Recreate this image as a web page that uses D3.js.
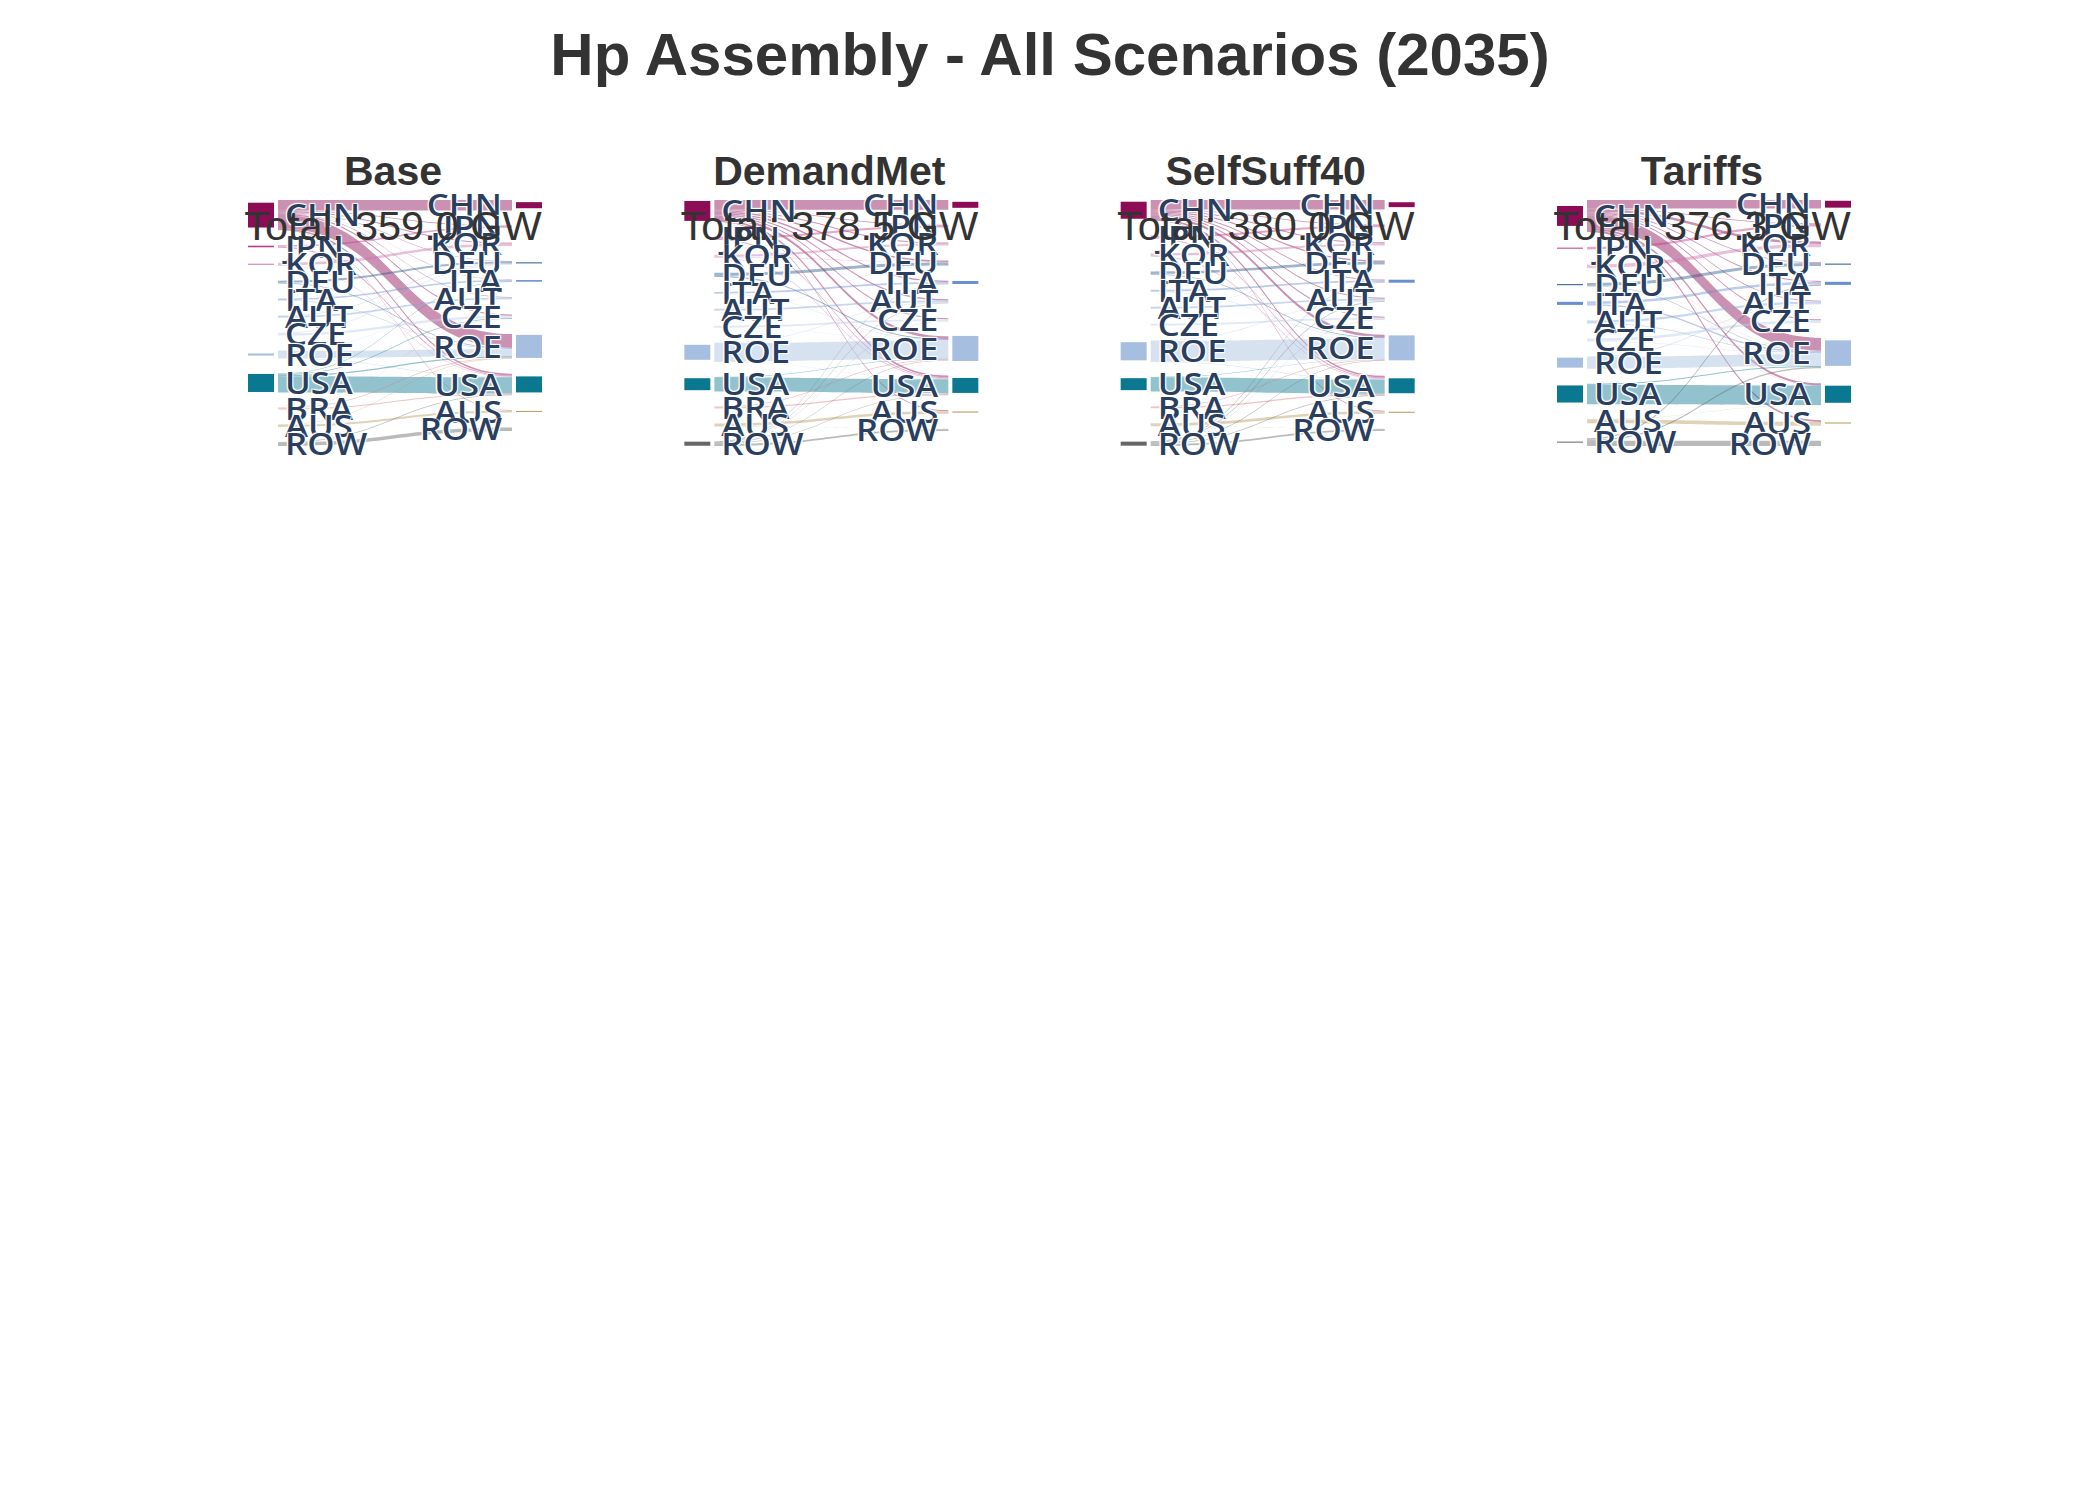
<!DOCTYPE html>
<html><head><meta charset="utf-8">
<script src="https://cdn.jsdelivr.net/npm/d3@7"></script>
<style>
html,body{margin:0;padding:0;background:#fff;}
.lbl{font-family:"Open Sans",sans-serif;font-weight:600;fill:#2a3f5f;text-shadow:1px 1px 1px #fff,1px -1px 1px #fff,-1px 1px 1px #fff,-1px -1px 1px #fff;}
</style></head><body><svg id="chart" width="2100" height="1500"></svg>
<script>
const chartTitle = "Hp Assembly - All Scenarios (2035)";
const scenarios = ["Base", "DemandMet", "SelfSuff40", "Tariffs"];
const scenarioTotals = [359.0, 378.5, 380.0, 376.3];
const countries = ["CHN","JPN","KOR","DEU","ITA","AUT","CZE","ROE","USA","BRA","AUS","ROW"];
const countryColors = ["#8c0c55","#c4378b","#d071ad","#2b5a8e","#6a8fd0","#87a7da","#b8cbe8","#a6bee0","#0b7891","#e0787c","#b89b5e","#666666"];

// flows: [origin, destination, GW]
const baseFlows = [
  ["CHN","CHN",46],["CHN","JPN",4],["CHN","KOR",4],["CHN","DEU",2],["CHN","ITA",2],["CHN","AUT",2],["CHN","CZE",5],["CHN","ROE",60],["CHN","USA",7],["CHN","AUS",2],
  ["JPN","JPN",6],["JPN","USA",5],
  ["KOR","KOR",11],["KOR","USA",2],
  ["DEU","DEU",9],["DEU","ROE",4],
  ["ITA","ITA",6],["ITA","ROE",3],
  ["AUT","AUT",7],["AUT","DEU",2],
  ["CZE","CZE",10],["CZE","DEU",3],
  ["ROE","ROE",31],["ROE","AUT",2],["ROE","USA",2],
  ["USA","USA",72],["USA","ROE",6],["USA","ITA",3],["USA","CZE",3],
  ["BRA","CZE",2],["BRA","USA",4],["BRA","ROE",3],
  ["AUS","AUS",9],["AUS","ROE",2],
  ["ROW","ROW",15],["ROW","USA",3]
];
const demandMetFlows = [
  ["CHN","CHN",45],["CHN","JPN",4],["CHN","KOR",5],["CHN","DEU",7],["CHN","ITA",6],["CHN","AUT",6],["CHN","CZE",5],["CHN","ROE",12],["CHN","USA",8],["CHN","AUS",4],
  ["JPN","JPN",9.5],["JPN","USA",4.5],
  ["KOR","KOR",9],["KOR","DEU",2],["KOR","USA",3],
  ["DEU","DEU",14],["DEU","ROE",5],
  ["ITA","ITA",8],["ITA","ROE",1],
  ["AUT","AUT",8],["AUT","DEU",1],
  ["CZE","CZE",8],["CZE","ROE",1],
  ["ROE","ROE",86],["ROE","AUT",2],["ROE","USA",2],
  ["USA","USA",66],["USA","ROE",2],
  ["BRA","USA",6],["BRA","ROE",3],
  ["AUS","AUS",12],["AUS","ROW",2],
  ["ROW","ITA",3],["ROW","AUT",2],["ROW","CZE",2],["ROW","ROE",3],["ROW","USA",3],["ROW","ROW",8.5]
];
const selfSuffFlows = [
  ["CHN","CHN",44],["CHN","JPN",4],["CHN","KOR",5],["CHN","DEU",6],["CHN","ITA",4],["CHN","AUT",5],["CHN","CZE",5],["CHN","ROE",12],["CHN","USA",8],["CHN","AUS",3],
  ["JPN","JPN",10],["JPN","USA",4],
  ["KOR","KOR",10],["KOR","USA",4],
  ["DEU","DEU",12],["DEU","ROE",4],
  ["ITA","ITA",8],["ITA","ROE",1],
  ["AUT","AUT",8],["AUT","DEU",1],
  ["CZE","CZE",8],["CZE","ROE",1],
  ["ROE","ROE",96],["ROE","AUT",2],["ROE","USA",2],
  ["USA","USA",66],["USA","ROE",2],
  ["BRA","USA",6],["BRA","ROE",3],
  ["AUS","AUS",12],["AUS","ROW",2],
  ["ROW","ITA",3],["ROW","AUT",3],["ROW","CZE",2],["ROW","ROE",3],["ROW","USA",3],["ROW","ROW",8]
];
const tariffsFlows = [
  ["CHN","CHN",33],["CHN","JPN",3],["CHN","KOR",10],["CHN","DEU",3],["CHN","ITA",4],["CHN","AUT",3],["CHN","CZE",4],["CHN","ROE",50],["CHN","USA",8],["CHN","AUS",7],
  ["JPN","JPN",9],["JPN","USA",1],
  ["KOR","KOR",13],["KOR","ROE",1],
  ["DEU","DEU",11],["DEU","ROE",2],
  ["ITA","ITA",10],["ITA","ROE",6],
  ["AUT","AUT",9],["AUT","ROE",3],
  ["CZE","CZE",10],["CZE","ROE",2],
  ["ROE","ROE",46],["ROE","AUT",2],
  ["USA","USA",76],["USA","ROE",4],
  ["AUS","AUS",15],["AUS","USA",1],
  ["ROW","ITA",5],["ROW","ROE",5],["ROW","ROW",20.3]
];
// side bars: [country, GW]
const baseSourceBars = [["CHN",110],["JPN",7],["KOR",4],["ROE",9],["USA",80]];
const baseTargetBars = [["CHN",27],["DEU",4],["ITA",7],["ROE",102],["USA",71],["AUS",4]];
const demandMetSourceBars = [["CHN",93],["ROE",70],["USA",56],["ROW",19]];
const demandMetTargetBars = [["CHN",28],["ITA",14],["ROE",117],["USA",70],["AUS",5]];
const selfSuffSourceBars = [["CHN",80],["ROE",85],["USA",56],["ROW",19]];
const selfSuffTargetBars = [["CHN",23],["ITA",14],["ROE",117],["USA",70],["AUS",5]];
const tariffsSourceBars = [["CHN",78],["JPN",4],["DEU",4],["ITA",12],["ROE",39],["USA",67],["ROW",4]];
const tariffsTargetBars = [["CHN",27],["DEU",4],["ITA",12],["ROE",100],["USA",67],["AUS",4]];

const scenarioFlows = [baseFlows, demandMetFlows, selfSuffFlows, tariffsFlows];
const scenarioSourceBars = [baseSourceBars, demandMetSourceBars, selfSuffSourceBars, tariffsSourceBars];
const scenarioTargetBars = [baseTargetBars, demandMetTargetBars, selfSuffTargetBars, tariffsTargetBars];

// ---------- layout constants ----------
const SANKEY_TOP = 200, SANKEY_H = 246, NODE_PAD = 15;
const color = d3.scaleOrdinal().domain(countries).range(countryColors);
const panelX = d3.scalePoint().domain(scenarios).range([393, 1702]);

function buildSankey(flows) {
  const srcNames = countries.filter(c => flows.some(f => f[0] === c));
  const tgtNames = countries.filter(c => flows.some(f => f[1] === c));
  const left = srcNames.map(n => ({name: n, sourceLinks: [], targetLinks: []}));
  const right = tgtNames.map(n => ({name: n, sourceLinks: [], targetLinks: []}));
  const L = new Map(left.map(n => [n.name, n])), R = new Map(right.map(n => [n.name, n]));
  const links = flows.map(([s, t, v]) => {
    const l = {source: L.get(s), target: R.get(t), value: v};
    l.source.sourceLinks.push(l); l.target.targetLinks.push(l); return l;
  });
  left.forEach(n => n.value = d3.sum(n.sourceLinks, l => l.value));
  right.forEach(n => n.value = d3.sum(n.targetLinks, l => l.value));
  const cols = [left, right];
  const ky = d3.min(cols, c => (SANKEY_H - (c.length - 1) * NODE_PAD) / d3.sum(c, n => n.value));
  const h = d3.scaleLinear().domain([0, 1]).range([0, ky]);
  cols.forEach(nodes => {
    let y = 0;
    nodes.forEach(n => { n.y = y; n.dy = h(n.value); y += n.dy + NODE_PAD; });
  });
  links.forEach(l => l.dy = h(l.value));
  left.forEach(n => { n.sourceLinks.sort((a, b) => a.target.y - b.target.y); let sy = 0; n.sourceLinks.forEach(l => { l.sy = sy; sy += l.dy; }); });
  right.forEach(n => { n.targetLinks.sort((a, b) => a.source.y - b.source.y); let ty = 0; n.targetLinks.forEach(l => { l.ty = ty; ty += l.dy; }); });
  return {left, right, links, h};
}

const svg = d3.select("#chart");
svg.append("text").attr("x", 1050).attr("y", 75).attr("text-anchor", "middle")
  .style("font-family", "'Liberation Sans', Arial, sans-serif").style("font-weight", "bold")
  .style("font-size", "60px").style("fill", "#333").text(chartTitle);

const yPos = d3.scaleLinear().domain([0, SANKEY_H]).range([SANKEY_TOP, SANKEY_TOP + SANKEY_H]);

scenarios.forEach((sc, si) => {
  const cx = panelX(sc);
  const g = svg.append("g");
  const {left, right, links, h} = buildSankey(scenarioFlows[si]);
  const xLink = d3.scaleLinear().domain([0, 1]).range([cx - 115, cx + 119]);
  const x0 = xLink(0), x1 = xLink(1), xm = xLink(0.5);

  g.append("g").selectAll("path").data(links).join("path")
    .attr("d", l => {
      const s0 = yPos(l.source.y + l.sy), s1 = s0 + l.dy;
      const t0 = yPos(l.target.y + l.ty), t1 = t0 + l.dy;
      return `M${x0},${s0}C${xm},${s0} ${xm},${t0} ${x1},${t0}L${x1},${t1}C${xm},${t1} ${xm},${s1} ${x0},${s1}Z`;
    })
    .attr("fill", l => color(l.source.name)).attr("fill-opacity", 0.45);

  const lMap = new Map(left.map(n => [n.name, n])), rMap = new Map(right.map(n => [n.name, n]));
  const srcBars = scenarioSourceBars[si].filter(b => lMap.has(b[0]));
  const tgtBars = scenarioTargetBars[si].filter(b => rMap.has(b[0]));
  g.append("g").selectAll("rect").data(srcBars).join("rect")
    .attr("x", cx - 145).attr("width", 26)
    .attr("y", b => { const n = lMap.get(b[0]); return yPos(n.y + n.dy / 2) - h(b[1]) / 2; })
    .attr("height", b => Math.max(1, h(b[1])))
    .attr("fill", b => color(b[0]));
  g.append("g").selectAll("rect").data(tgtBars).join("rect")
    .attr("x", cx + 123).attr("width", 26)
    .attr("y", b => { const n = rMap.get(b[0]); return yPos(n.y + n.dy / 2) - h(b[1]) / 2; })
    .attr("height", b => Math.max(1, h(b[1])))
    .attr("fill", b => color(b[0]));

  g.append("g").selectAll("text").data(left).join("text").attr("class", "lbl")
    .attr("transform", n => `translate(${cx - 108},${yPos(n.y + n.dy / 2)}) scale(1.12,1)`)
    .attr("dy", "0.36em").style("font-size", "31px").text(n => n.name);
  g.append("g").selectAll("text").data(right).join("text").attr("class", "lbl")
    .attr("transform", n => `translate(${cx + 109},${yPos(n.y + n.dy / 2)}) scale(1.12,1)`)
    .attr("dy", "0.36em").attr("text-anchor", "end").style("font-size", "31px").text(n => n.name);

  g.append("text").attr("x", cx).attr("y", 185).attr("text-anchor", "middle")
    .style("font-family", "'Liberation Sans', Arial, sans-serif").style("font-weight", "bold")
    .style("font-size", "41px").style("fill", "#333").text(sc);
  g.append("text").attr("x", cx).attr("y", 240).attr("text-anchor", "middle")
    .style("font-family", "'Liberation Sans', Arial, sans-serif")
    .style("font-size", "41.5px").style("fill", "#333").text(`Total: ${d3.format(".1f")(scenarioTotals[si])} GW`);
});
</script></body></html>
